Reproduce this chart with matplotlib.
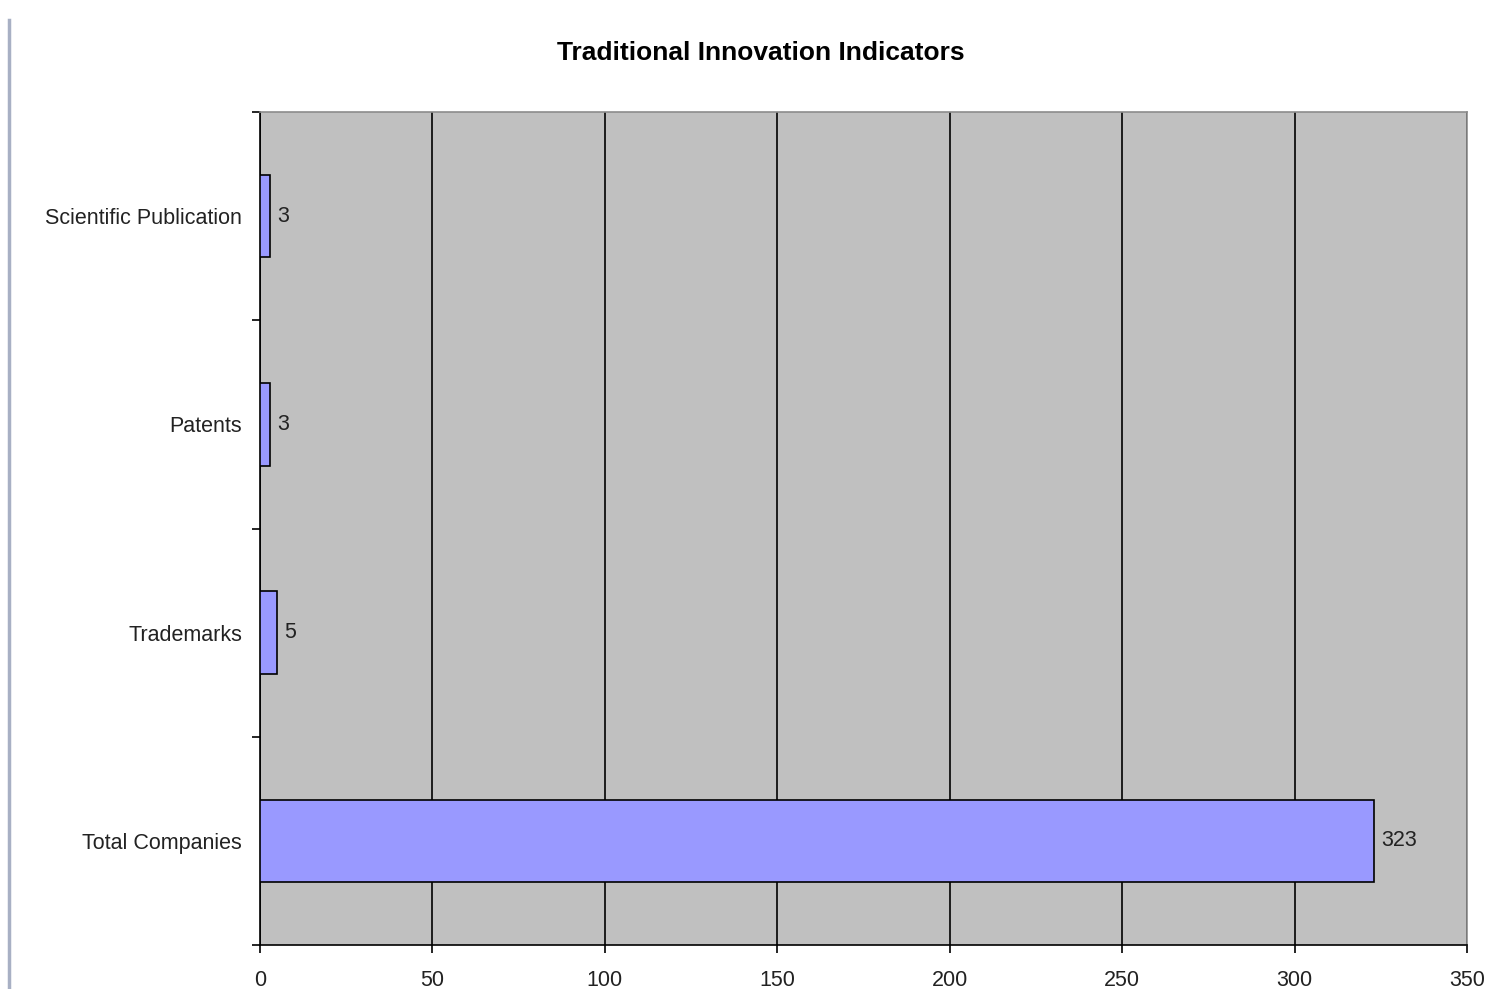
import matplotlib
matplotlib.use("Agg")
import matplotlib.pyplot as plt
from matplotlib.lines import Line2D

categories = ["Total Companies", "Trademarks", "Patents", "Scientific Publication"]
values = [323, 5, 3, 3]
xticks = [0, 50, 100, 150, 200, 250, 300, 350]

plt.rcParams['font.family'] = ['Liberation Sans', 'DejaVu Sans']

fig = plt.figure(figsize=(14.89, 9.89), dpi=100)
ax = fig.add_axes([260/1489, (989-945)/989, (1467-260)/1489, (945-112)/989])
ax.set_facecolor('#c0c0c0')

ypos = list(range(len(categories)))
ax.barh(ypos, values, height=0.395, color='#9999ff', edgecolor='black', linewidth=1.2, zorder=3)
for y, v in zip(ypos, values):
    ax.text(v + 2, y, str(v), va='center', ha='left', fontsize=15.5, color='#222222', zorder=4)

ax.set_xlim(0, 350)
ax.set_ylim(-0.5, len(categories) - 0.5)
ax.set_xticks(xticks)
ax.set_xticklabels([str(t) for t in xticks], fontsize=15.5, color='#222222')
ax.xaxis.grid(True, color='black', linewidth=1.2, zorder=1)
ax.set_axisbelow(True)

ax.set_yticks(ypos)
ax.set_yticklabels(categories, fontsize=15.5, color='#222222')
ax.tick_params(axis='y', length=0, pad=13)
ax.set_yticks([i - 0.5 for i in range(len(categories) + 1)], minor=True)
ax.tick_params(axis='y', which='minor', length=6, width=1.2, direction='out')
ax.tick_params(axis='x', length=6, width=1.2, direction='out', pad=12)

for s in ['left', 'bottom']:
    ax.spines[s].set_color('black')
    ax.spines[s].set_linewidth(1.2)
for s in ['top', 'right']:
    ax.spines[s].set_color('#8c8c8c')
    ax.spines[s].set_linewidth(1.2)

fig.text(761/1489, 1 - 53/989, "Traditional Innovation Indicators", ha='center', va='center',
         fontsize=19, fontweight='bold')

fig.add_artist(Line2D([9/1489, 9/1489], [0, 1 - 20/989], color='#a8b0c4', linewidth=2.5,
                      transform=fig.transFigure))

fig.savefig('out.png', dpi=100)
